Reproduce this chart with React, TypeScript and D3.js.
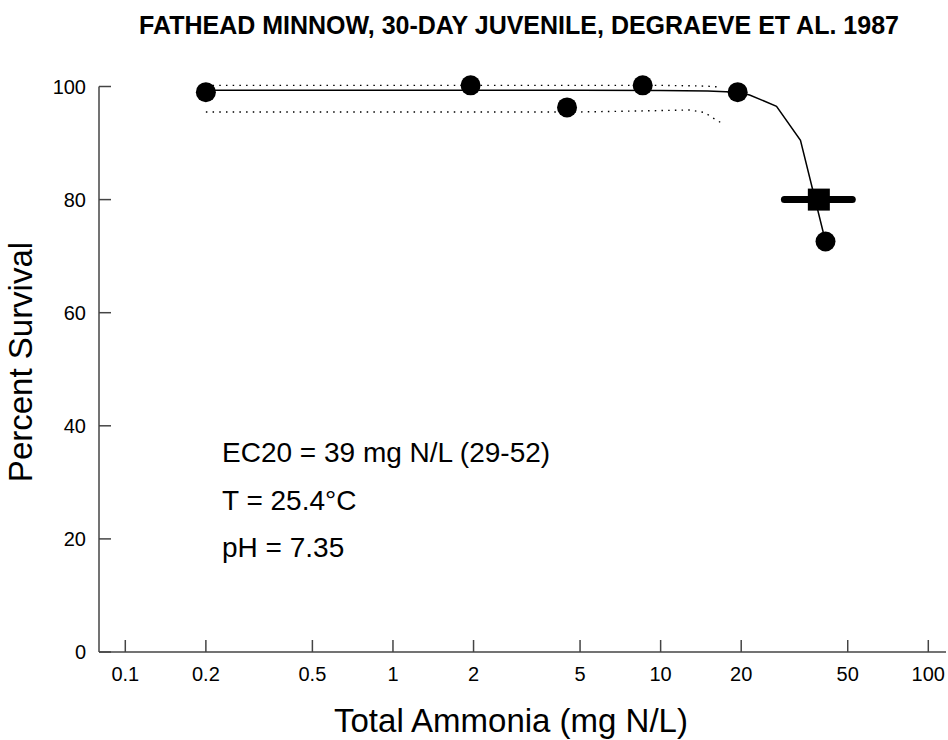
import React from "react";
import * as d3 from "d3";

const W = 948;
const H = 740;

const titleText = "FATHEAD MINNOW, 30-DAY JUVENILE, DEGRAEVE ET AL. 1987";
const xLabel = "Total Ammonia (mg N/L)";
const yLabel = "Percent Survival";
const xTicks = [0.1, 0.2, 0.5, 1, 2, 5, 10, 20, 50, 100];
const xTickLabels = ["0.1", "0.2", "0.5", "1", "2", "5", "10", "20", "50", "100"];
const yTicks = [0, 20, 40, 60, 80, 100];

// observed data
const obsConc = [0.2, 1.95, 4.47, 8.57, 19.4, 41.3];
const obsSurv = [99.0, 100.2, 96.3, 100.2, 99.0, 72.6];

// fitted curve
const curveConc = [0.2, 5, 10, 15, 19.4, 21.5, 27.1, 33.3, 41.3];
const curveSurv = [99.35, 99.35, 99.3, 99.2, 99.0, 98.5, 96.5, 90.5, 72.6];

// confidence bands (dotted)
const upperConc = [0.2, 5, 10, 14, 15.6, 16.8];
const upperSurv = [100.2, 100.2, 100.2, 100.1, 100.0, 99.9];
const lowerConc = [0.2, 5, 9, 12.9, 13.4, 14.6, 15.6, 16.8];
const lowerSurv = [95.5, 95.5, 95.7, 95.85, 95.7, 95.4, 94.5, 93.6];

// EC20 estimate and interval
const ec20 = 39;
const ec20Surv = 80;
const ec20Low = 29;
const ec20High = 52;

const annotations = ["EC20 = 39 mg N/L (29-52)", "T = 25.4\u00B0C", "pH = 7.35"];

const FONT = "'Liberation Sans', Arial, Helvetica, sans-serif";

export default function App() {
  const x = d3.scaleLog().domain([0.1, 100]).range([125.3, 928.3]);
  const y = d3.scaleLinear().domain([0, 100]).range([652, 86.5]);
  const x0 = 99;
  const y0 = y(0);

  const line = d3
    .line<[number, number]>()
    .x((d) => x(d[0]))
    .y((d) => y(d[1]));

  const curve = curveConc.map((c, i) => [c, curveSurv[i]] as [number, number]);
  const upper = upperConc.map((c, i) => [c, upperSurv[i]] as [number, number]);
  const lower = lowerConc.map((c, i) => [c, lowerSurv[i]] as [number, number]);

  const axisColor = "#444";
  const sq = 22;

  return (
    <div style={{ position: "absolute", left: 0, top: 0 }}>
      <svg width={W} height={H} style={{ display: "block", background: "#fff" }} fontFamily={FONT}>
        <rect width={W} height={H} fill="#fff" />
        <text x={519} y={34} textAnchor="middle" fontSize={25} fontWeight="bold" fill="#000">
          {titleText}
        </text>

        {/* axes */}
        <line x1={x0} y1={y(100)} x2={x0} y2={y0} stroke={axisColor} strokeWidth={1.5} />
        <line x1={x0} y1={y0} x2={946} y2={y0} stroke={axisColor} strokeWidth={1.5} />
        {yTicks.map((t) => (
          <g key={"y" + t}>
            <line x1={x0} x2={x0 + 12} y1={y(t)} y2={y(t)} stroke={axisColor} strokeWidth={1.5} />
            <text x={86} y={y(t)} dy="0.35em" textAnchor="end" fontSize={20} fill="#000">
              {t}
            </text>
          </g>
        ))}
        {xTicks.map((t, i) => (
          <g key={"x" + t}>
            <line x1={x(t)} x2={x(t)} y1={y0} y2={y0 - 12} stroke={axisColor} strokeWidth={1.5} />
            <text x={x(t)} y={y0 + 29} textAnchor="middle" fontSize={20} fill="#000">
              {xTickLabels[i]}
            </text>
          </g>
        ))}

        <text x={511} y={732} textAnchor="middle" fontSize={33} fill="#000">
          {xLabel}
        </text>
        <text
          transform={`translate(32, 362) rotate(-90)`}
          textAnchor="middle"
          fontSize={33}
          fill="#000"
        >
          {yLabel}
        </text>

        {/* bands */}
        <path d={line(upper) || ""} fill="none" stroke="#000" strokeWidth={1.4} strokeDasharray="1.5 5.2" />
        <path d={line(lower) || ""} fill="none" stroke="#000" strokeWidth={1.4} strokeDasharray="1.5 5.2" />
        {/* fitted curve */}
        <path d={line(curve) || ""} fill="none" stroke="#000" strokeWidth={1.5} />

        {/* EC20 interval */}
        <line
          x1={x(ec20Low)}
          x2={x(ec20High)}
          y1={y(ec20Surv)}
          y2={y(ec20Surv)}
          stroke="#000"
          strokeWidth={7}
          strokeLinecap="round"
        />
        <rect x={x(ec20) - sq / 2} y={y(ec20Surv) - sq / 2} width={sq} height={sq} fill="#000" />

        {/* observations */}
        {obsConc.map((c, i) => (
          <circle key={"o" + i} cx={x(c)} cy={y(obsSurv[i])} r={10} fill="#000" />
        ))}

        {annotations.map((a, i) => (
          <text key={"a" + i} x={222} y={462 + i * 47.5} fontSize={28} fill="#000">
            {a}
          </text>
        ))}
      </svg>
    </div>
  );
}
